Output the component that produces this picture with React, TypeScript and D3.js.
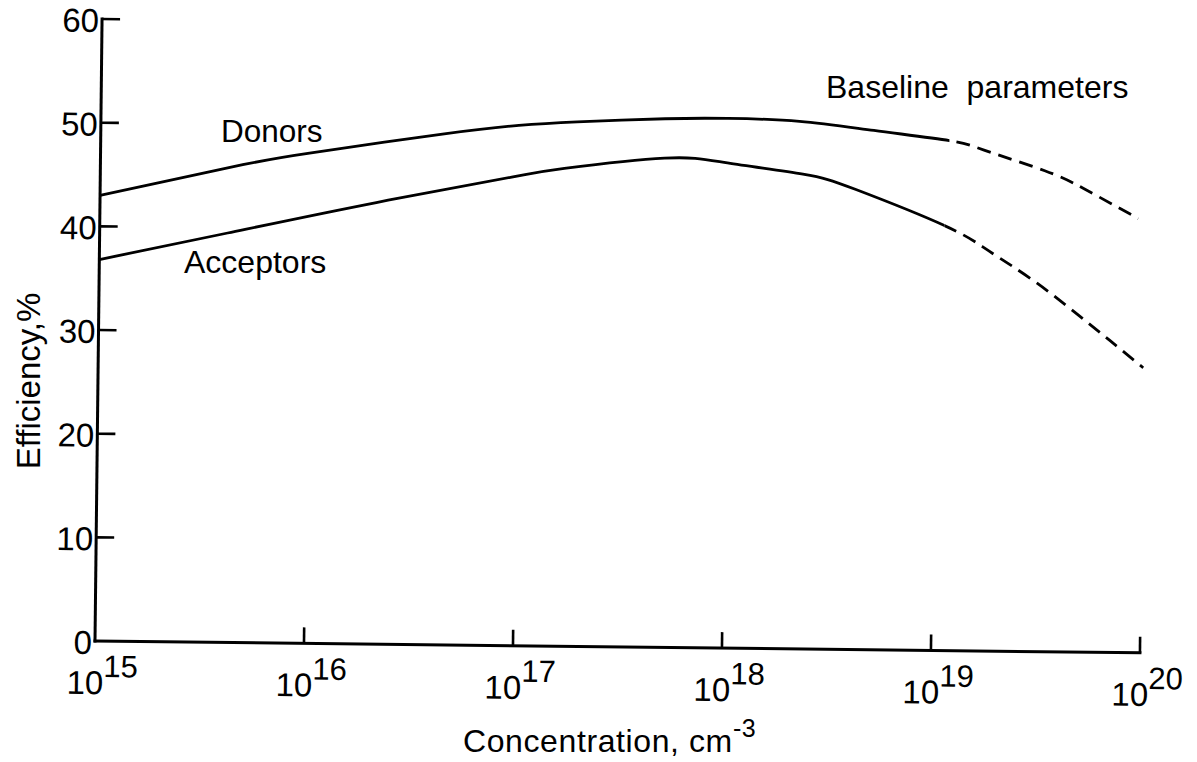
import React from "react";
import * as d3 from "d3";

// ---------- data ----------
const donorSolidConc = [1e15, 4.8e15, 1e16, 4.4e16, 1e17, 1.9e17, 5e17, 1e18, 2.2e18, 5e18, 1.15e19];
const donorSolidEff = [43.0, 46.1, 47.3, 49.3, 50.2, 50.6, 51.0, 51.1, 50.9, 50.1, 49.2];
const donorDashConc = [1.15e19, 1.7e19, 3.3e19, 5.1e19, 9.3e19];
const donorDashEff = [49.2, 48.3, 46.4, 44.7, 41.9];

const accSolidConc = [1e15, 4.1e15, 2.1e16, 9.3e16, 1.66e17, 5e17, 1e18, 2.3e18, 4.1e18, 1.1e19];
const accSolidEff = [36.8, 39.5, 42.6, 45.2, 46.1, 47.2, 46.8, 45.8, 44.4, 41.0];
const accDashConc = [1.1e19, 1.8e19, 2.9e19, 4.8e19, 6.9e19, 1e20];
const accDashEff = [41.0, 38.6, 35.9, 32.6, 30.1, 27.5];

const yTicks = [0, 10, 20, 30, 40, 50, 60];
const xTickExps = [15, 16, 17, 18, 19, 20];

const yTitle = "Efficiency,%";
const xTitle = "Concentration, cm";
const xTitleSup = "-3";
const donorLabel = "Donors";
const acceptorLabel = "Acceptors";
const noteLabel = "Baseline\u00a0 parameters";

// ---------- layout ----------
const W = 1197;
const H = 762;
const x0 = 95;
const x1 = 1140;
const yBottom = 641;
const yTop = 19;
const tilt = 0.65;
const font = "'Liberation Sans', Arial, Helvetica, sans-serif";

export default function App() {
  const x = d3.scaleLog().domain([1e15, 1e20]).range([x0, x1]);
  const y = d3.scaleLinear().domain([0, 60]).range([yBottom, yTop]);
  const line = d3
    .line<[number, number]>()
    .x((d) => x(d[0]))
    .y((d) => y(d[1]))
    .curve(d3.curveNatural);
  const zip = (a: number[], b: number[]) => a.map((v, i) => [v, b[i]] as [number, number]);

  const series = [
    {
      id: "don",
      pts: [...zip(donorSolidConc, donorSolidEff), ...zip(donorDashConc, donorDashEff).slice(1)],
      split: x(donorSolidConc[donorSolidConc.length - 1]),
    },
    {
      id: "acc",
      pts: [...zip(accSolidConc, accSolidEff), ...zip(accDashConc, accDashEff).slice(1)],
      split: x(accSolidConc[accSolidConc.length - 1]),
    },
  ];

  return (
    <svg
      width={W}
      height={H}
      viewBox={`0 0 ${W} ${H}`}
      style={{ position: "absolute", left: 0, top: 0, background: "#fff" }}
      fontFamily={font}
    >
      <defs>
        {series.map((s) => (
          <React.Fragment key={s.id}>
            <clipPath id={`solid-${s.id}`}>
              <rect x={0} y={0} width={s.split} height={H} />
            </clipPath>
            <clipPath id={`dash-${s.id}`}>
              <rect x={s.split} y={0} width={W} height={H} />
            </clipPath>
          </React.Fragment>
        ))}
      </defs>
      <rect x={0} y={0} width={W} height={H} fill="#fff" />
      <g transform={`rotate(${tilt}, ${x0}, ${yBottom})`}>
        {/* axes */}
        <line x1={x0} y1={y(0)} x2={x0} y2={y(60)} stroke="#000" strokeWidth={3} strokeLinecap="square" />
        <line x1={x0} y1={y(0)} x2={x1} y2={y(0)} stroke="#000" strokeWidth={3} strokeLinecap="square" />
        {yTicks.map((t) => (
          <g key={"y" + t}>
            {t > 0 && (
              <line x1={x0} x2={x0 + 18} y1={y(t)} y2={y(t)} stroke="#000" strokeWidth={2.6} />
            )}
            <text x={x0 - 3} y={y(t) + 13} textAnchor="end" fontSize={33} fill="#000">
              {t}
            </text>
          </g>
        ))}
        {xTickExps.map((e) => (
          <g key={"x" + e}>
            {e > 15 && (
              <line x1={x(10 ** e)} x2={x(10 ** e)} y1={y(0)} y2={y(0) - 16} stroke="#000" strokeWidth={2.6} />
            )}
            <text x={x(10 ** e) - 28} y={y(0) + 53} fontSize={33} fill="#000">
              10
              <tspan dy={-17} fontSize={31}>
                {e}
              </tspan>
            </text>
          </g>
        ))}
        {/* curves */}
        {series.map((s) => {
          const d = line(s.pts) || "";
          return (
            <g key={s.id}>
              <path d={d} fill="none" stroke="#000" strokeWidth={2.8} clipPath={`url(#solid-${s.id})`} />
              <path
                d={d}
                fill="none"
                stroke="#000"
                strokeWidth={2.8}
                strokeDasharray="14 8"
                strokeDashoffset={-6}
                clipPath={`url(#dash-${s.id})`}
              />
            </g>
          );
        })}
      </g>

      {/* labels */}
      <text x={221} y={142} fontSize={31.5} fill="#000">
        {donorLabel}
      </text>
      <text x={184} y={273} fontSize={32} fill="#000">
        {acceptorLabel}
      </text>
      <text x={826} y={98} fontSize={32} fill="#000">
        {noteLabel}
      </text>
      <text
        transform="translate(40, 381) rotate(-90)"
        textAnchor="middle"
        fontSize={33}
        fill="#000"
      >
        {yTitle}
      </text>
      <text x={463} y={752} fontSize={32} fill="#000" letterSpacing={0.6}>
        {xTitle}
        <tspan dy={-15} fontSize={25}>
          {xTitleSup}
        </tspan>
      </text>
    </svg>
  );
}
